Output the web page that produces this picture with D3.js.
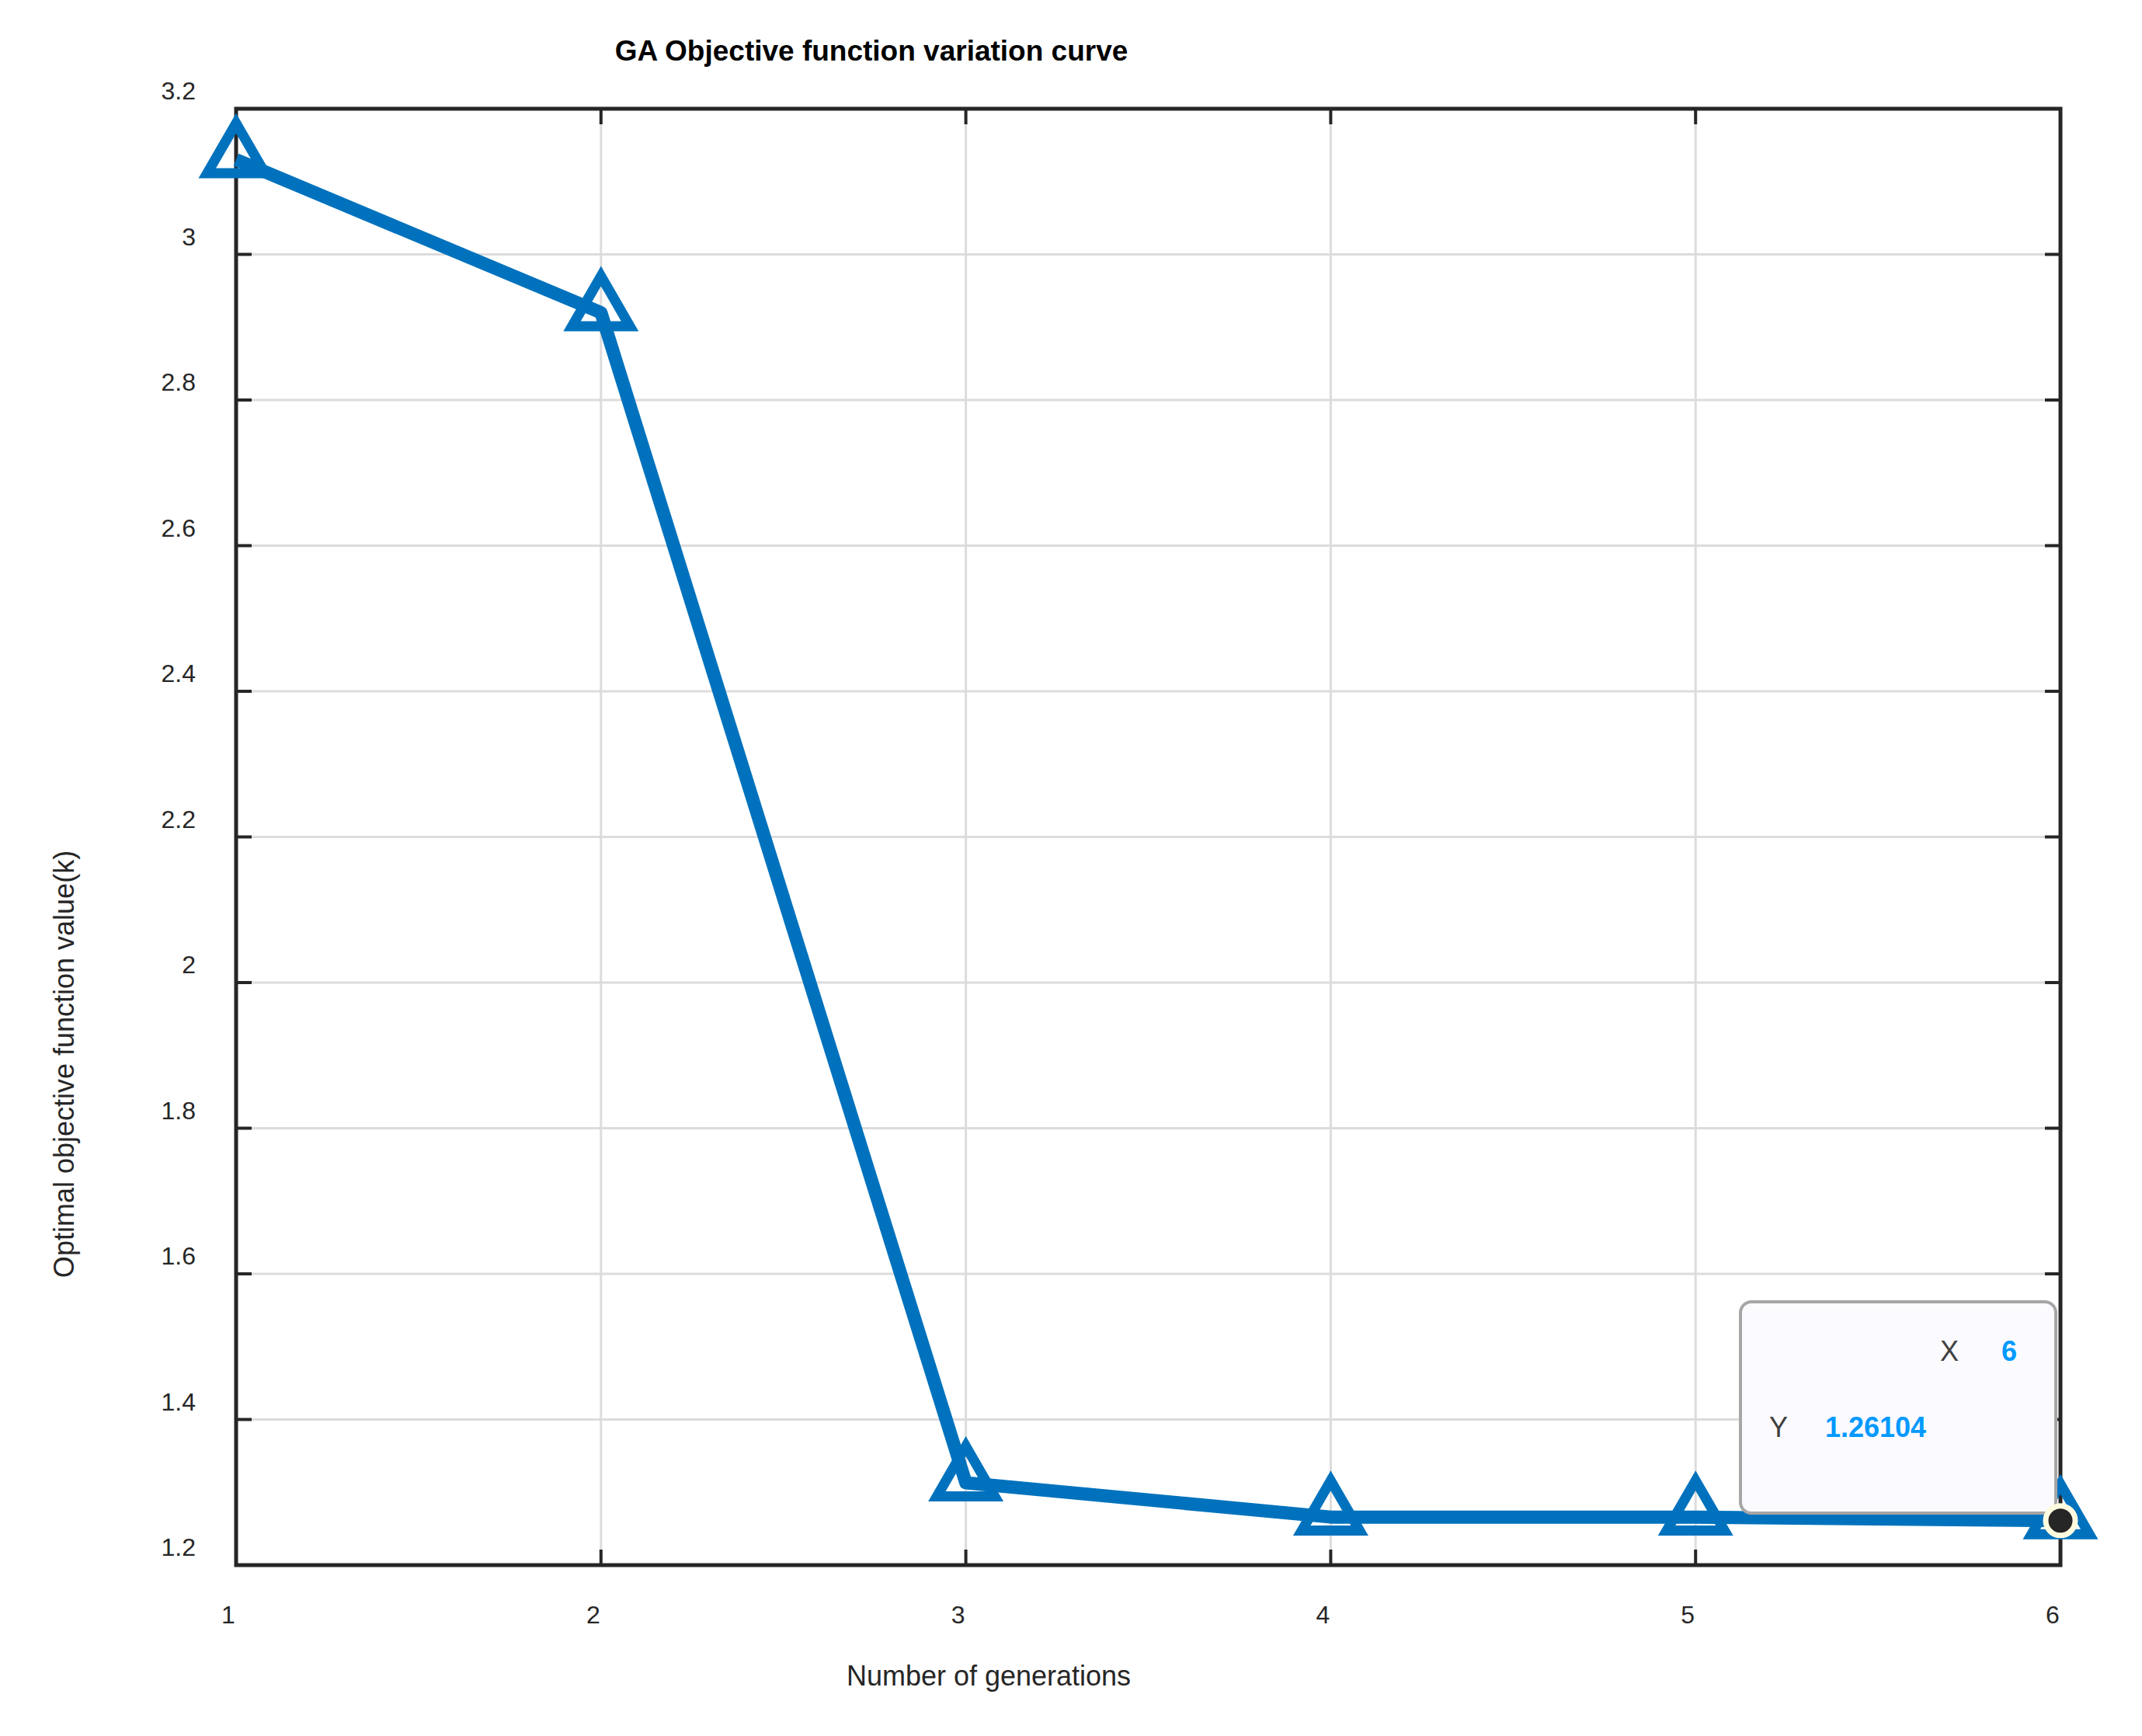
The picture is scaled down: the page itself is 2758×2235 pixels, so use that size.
<!DOCTYPE html>
<html><head><meta charset="utf-8">
<script src="https://cdn.jsdelivr.net/npm/d3@7"></script>
<style>body{margin:0;background:#fff}text{font-family:"Liberation Sans",Arial,sans-serif}</style>
</head><body><svg id="c" width="2758" height="2235"></svg>
<script>
const generations=[1,2,3,4,5,6];
const objValues=[3.13,2.92,1.313,1.266,1.266,1.26104];
const xTicks=[1,2,3,4,5,6];
const yTicks=[1.2,1.4,1.6,1.8,2,2.2,2.4,2.6,2.8,3,3.2];
const svg=d3.select("#c");
const L=304,R=2653,T=140,B=2015;
const x=d3.scaleLinear().domain([1,6]).range([L,R]);
const y=d3.scaleLinear().domain([1.2,3.2]).range([B,T]);
const g=svg.append("g");
// grid
g.selectAll(".gx").data(xTicks).join("line").attr("x1",d=>x(d)).attr("x2",d=>x(d)).attr("y1",T).attr("y2",B).attr("stroke","#dcdcdc").attr("stroke-width",3);
g.selectAll(".gy").data(yTicks).join("line").attr("y1",d=>y(d)).attr("y2",d=>y(d)).attr("x1",L).attr("x2",R).attr("stroke","#dcdcdc").attr("stroke-width",3);
// ticks inward on all sides
const tl=20, ax="#262626";
xTicks.forEach(d=>{g.append("line").attr("x1",x(d)).attr("x2",x(d)).attr("y1",B).attr("y2",B-tl).attr("stroke",ax).attr("stroke-width",4);
 g.append("line").attr("x1",x(d)).attr("x2",x(d)).attr("y1",T).attr("y2",T+tl).attr("stroke",ax).attr("stroke-width",4);});
yTicks.forEach(d=>{g.append("line").attr("y1",y(d)).attr("y2",y(d)).attr("x1",L).attr("x2",L+tl).attr("stroke",ax).attr("stroke-width",4);
 g.append("line").attr("y1",y(d)).attr("y2",y(d)).attr("x1",R).attr("x2",R-tl).attr("stroke",ax).attr("stroke-width",4);});
g.append("rect").attr("x",L).attr("y",T).attr("width",R-L).attr("height",B-T).attr("fill","none").attr("stroke",ax).attr("stroke-width",5);
// tick labels
g.selectAll(".xl").data(xTicks).join("text").attr("x",d=>x(d)-10).attr("y",B+75).attr("text-anchor","middle").attr("font-size",32).attr("fill","#262626").text(d=>d);
g.selectAll(".yl").data(yTicks).join("text").attr("x",L-52).attr("y",d=>y(d)-12).attr("text-anchor","end").attr("font-size",32).attr("fill","#262626").text(d=>d3.format("")(d));
// titles
svg.append("text").attr("x",1122).attr("y",78).attr("text-anchor","middle").attr("font-size",37).attr("font-weight","bold").text("GA Objective function variation curve");
svg.append("text").attr("x",1273).attr("y",2170).attr("text-anchor","middle").attr("font-size",36).attr("fill","#262626").text("Number of generations");
svg.append("text").attr("transform","translate(95,1370) rotate(-90)").attr("text-anchor","middle").attr("font-size",36).attr("fill","#262626").text("Optimal objective function value(k)");
// line
const col="#0072BD";
const pts=generations.map((d,i)=>[d,objValues[i]]);
svg.append("path").datum(pts).attr("d",d3.line().x(d=>x(d[0])).y(d=>y(d[1]))).attr("fill","none").attr("stroke",col).attr("stroke-width",17).attr("stroke-linejoin","round");
const tri=d3.symbol().type(d3.symbolTriangle).size(2400);
svg.selectAll(".m").data(pts).join("path").attr("d",tri).attr("transform",d=>`translate(${x(d[0])},${y(d[1])-4})`).attr("fill","none").attr("stroke",col).attr("stroke-width",13);
// datatip
const last=pts[pts.length-1];
svg.append("rect").attr("x",2241).attr("y",1676).attr("width",406).attr("height",272).attr("rx",14).attr("fill","#fafaff").attr("stroke","#a6a6a6").attr("stroke-width",4);
svg.append("text").attr("x",2510).attr("y",1752).attr("text-anchor","middle").attr("font-size",36).attr("fill","#404040").text("X");
svg.append("text").attr("x",2577).attr("y",1752).attr("font-size",36).attr("font-weight","bold").attr("fill","#0099ff").text(last[0]);
svg.append("text").attr("x",2290).attr("y",1850).attr("text-anchor","middle").attr("font-size",36).attr("fill","#404040").text("Y");
svg.append("text").attr("x",2350).attr("y",1850).attr("font-size",36).attr("font-weight","bold").attr("fill","#0099ff").text(last[1]);
svg.append("circle").attr("cx",x(last[0])).attr("cy",y(last[1])).attr("r",19).attr("fill","#262626").attr("stroke","#fffbe0").attr("stroke-width",7);
</script></body></html>
